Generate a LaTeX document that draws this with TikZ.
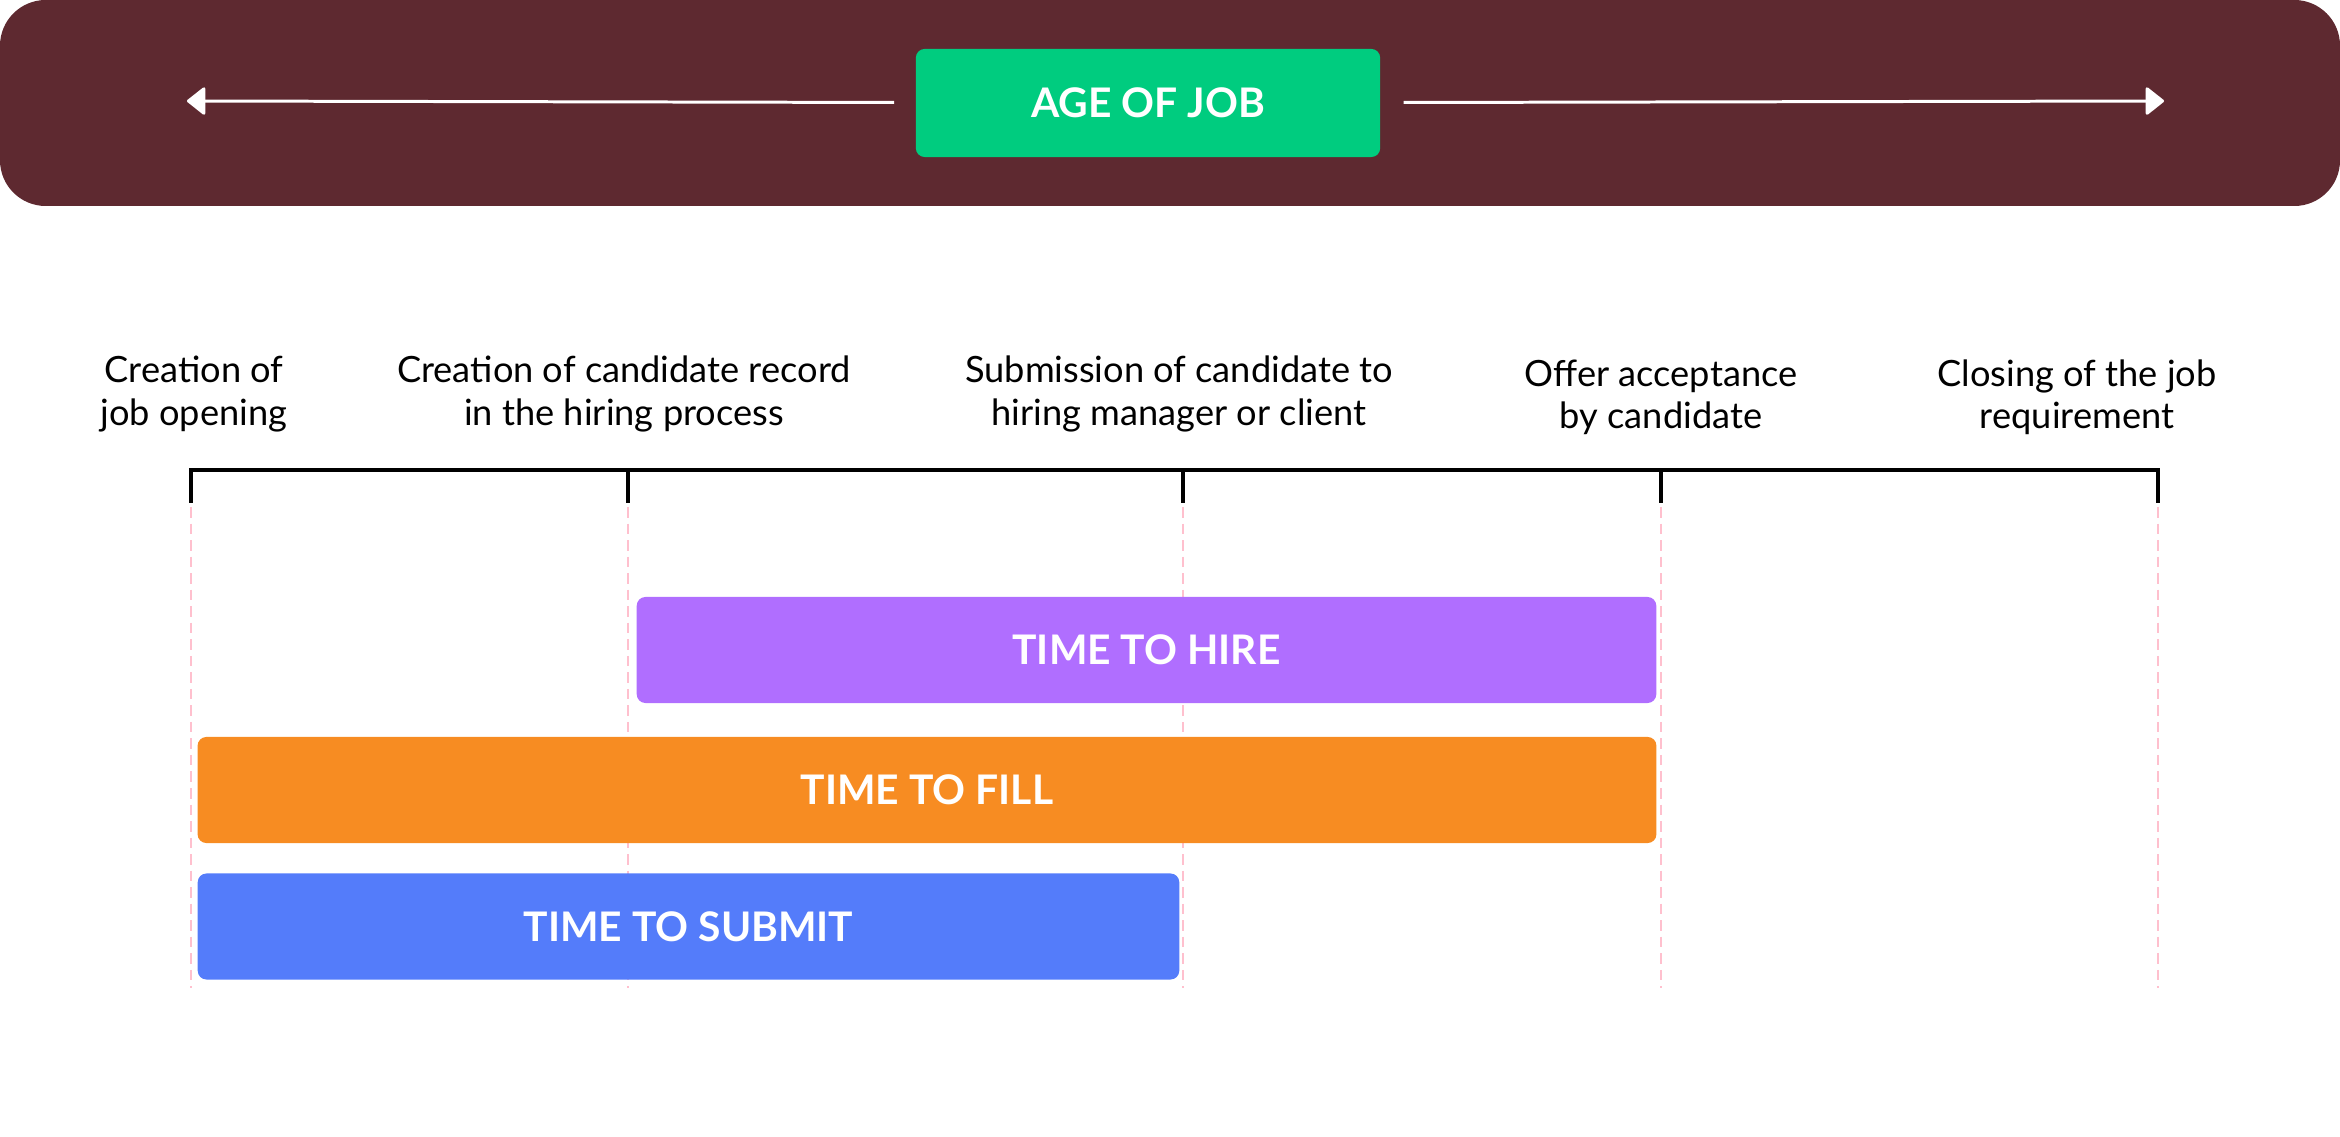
\documentclass[tikz,border=0pt]{standalone}
\usepackage{fontspec}
\setmainfont{Lato}
\usepackage{tikz}
\usetikzlibrary{arrows.meta}
\definecolor{ColA}{RGB}{94,41,48}
\definecolor{ColB}{RGB}{0,204,127}
\definecolor{ColC}{RGB}{176,110,255}
\definecolor{ColD}{RGB}{247,140,34}
\definecolor{ColE}{RGB}{84,124,250}
\definecolor{ColF}{RGB}{255,192,206}
\tikzstyle{NodeBar}=[rectangle,rounded corners=2.5pt,text=white,inner sep=0pt,
minimum height=1.06cm,font=\fontsize{11.6}{14}\selectfont\bfseries]
\tikzstyle{NodeLabel}=[align=center,inner sep=0pt,font=\fontsize{10.3}{12}\selectfont]
\tikzstyle{EdgeAge}=[white,line width=0.85pt,-{Triangle[round,length=5.5pt,width=8.5pt]}]
\tikzstyle{EdgeGuide}=[ColF,line width=0.7pt,dash pattern=on 3pt off 1.7pt]
\tikzstyle{EdgeTime}=[black,line width=0.9pt]

\begin{document}
\begin{tikzpicture}[x=0.01cm,y=-0.01cm]
        \useasboundingbox(0,0)rectangle(2340,1137);
        \fill[ColA,rounded corners=13pt](0,0)rectangle(2340,206);
        \node[NodeBar,fill=ColB,minimum width=4.64cm,minimum height=1.08cm](age)at(1148,103){AGE OF JOB};
        \coordinate(ageL)at(187,101);
        \coordinate(ageR)at(2164,101);
        \draw[EdgeAge,shorten <=6pt](age)--(ageL);
        \draw[EdgeAge,shorten <=6.5pt](age)--(ageR);
        \node[NodeLabel](open)at(194,394){Creation of\\job opening};
        \node[NodeLabel](record)at(624,394){Creation of candidate record\\in the hiring process};
        \node[NodeLabel](submit)at(1179,394){Submission of candidate to\\hiring manager or client};
        \node[NodeLabel](offer)at(1661,397){Offer acceptance\\by candidate};
        \node[NodeLabel](close)at(2077,397){Closing of the job\\requirement};
        \foreach \x[count=\i] in {191,628,1183,1661,2158}{
            \coordinate(t\i)at(\x,470);
            \draw[EdgeGuide](\x,507)--(\x,988);
        }
        \draw[EdgeTime](191,503)--(t1)--(t5)--(2158,503);
        \foreach \i in {2,3,4}{\draw[EdgeTime](t\i)--++(0,33);}
        \node[NodeBar,fill=ColC,minimum width=10.19cm](hire)at(1146.5,650){TIME TO HIRE};
        \node[NodeBar,fill=ColD,minimum width=14.58cm](fill)at(927,790){TIME TO FILL};
        \node[NodeBar,fill=ColE,minimum width=9.81cm](submitbar)at(688.5,926.5){TIME TO SUBMIT};
    \end{tikzpicture}
\end{document}
